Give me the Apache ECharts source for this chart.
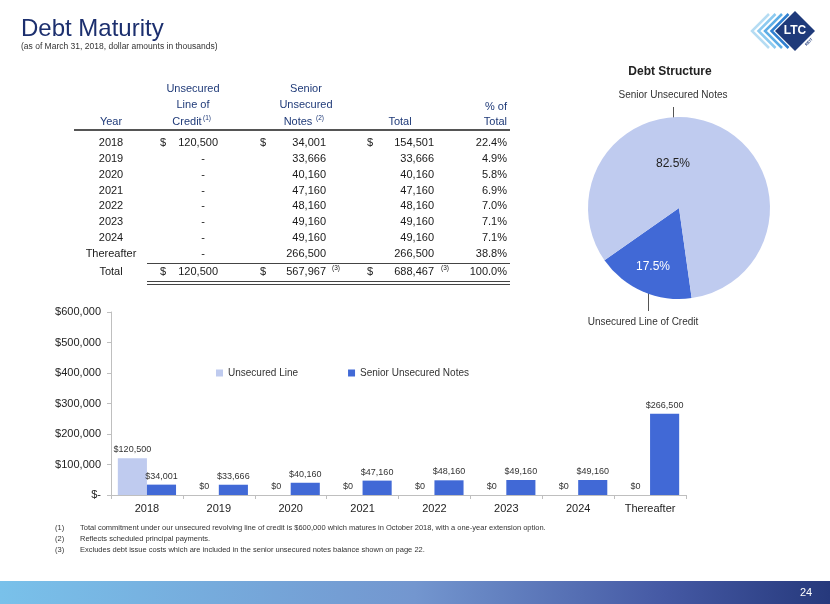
<!DOCTYPE html>
<html>
<head>
<meta charset="utf-8">
<script src="https://cdn.jsdelivr.net/npm/echarts@6/dist/echarts.min.js"></script>
<style>
html,body{margin:0;padding:0;background:#fff;}
#c{width:830px;height:604px;}
</style>
</head>
<body>
<div id="c"></div>
<script>
// ---------- data ----------
const years = ['2018','2019','2020','2021','2022','2023','2024','Thereafter'];
const lineOfCredit = [120500,0,0,0,0,0,0,0];
const seniorNotes = [34001,33666,40160,47160,48160,49160,49160,266500];
const rowTotals = [154501,33666,40160,47160,48160,49160,49160,266500];
const pctOfTotal = [22.4,4.9,5.8,6.9,7.0,7.1,7.1,38.8];
const totalLineOfCredit = 120500;
const totalSeniorNotes = 567967;
const grandTotal = 688467;
const grandPct = 100.0;
const pieNames = ['Unsecured Line of Credit','Senior Unsecured Notes'];
const pieValues = [17.5, 82.5];
const barSeriesNames = ['Unsecured Line','Senior Unsecured Notes'];
const yMax = 600000, yStep = 100000;
const footnotes = [
  'Total commitment under our unsecured revolving line of credit is $600,000 which matures in October 2018, with a one-year extension option.',
  'Reflects scheduled principal payments.',
  'Excludes debt issue costs which are included in the senior unsecured notes balance shown on page 22.'
];

// ---------- styles ----------
const FONT = '"Liberation Sans", Arial, sans-serif';
const NAVY = '#1c2f6e';
const HDR = '#1f3a78';
const TXT = '#1a1a1a';
const LIGHT = '#bfcbef';
const DARK = '#4169d6';

const fmt = v => String(Math.round(v)).replace(/\B(?=(\d{3})+(?!\d))/g, ',');

const g = [];
function txt(x, y, text, o) {
  o = o || {};
  g.push({
    type: 'text', silent: true, x: x, y: y, rotation: o.rot || 0,
    style: {
      text: text,
      fill: o.color || TXT,
      font: (o.weight || 'normal') + ' ' + (o.size || 11) + 'px ' + (o.family || FONT),
      textAlign: o.align || 'left', align: o.align || 'left',
      textVerticalAlign: 'middle', verticalAlign: 'middle'
    }
  });
}
function line(x1, y1, x2, y2, color, w) {
  g.push({type: 'line', silent: true, shape: {x1, y1, x2, y2}, style: {stroke: color, lineWidth: w || 1}});
}

// title
txt(21, 29, 'Debt Maturity', {size: 24, color: NAVY});
txt(21, 47, '(as of March 31, 2018, dollar amounts in thousands)', {size: 8.5, color: '#333'});

// table header
const cYear = 111, cLoc$ = 160, cLocR = 218, cLocDash = 203, cSn$ = 260, cSnR = 326, cT$ = 367, cTR = 434, cPR = 507;
txt(cYear, 122, 'Year', {align: 'center', color: HDR});
txt(193, 89, 'Unsecured', {align: 'center', color: HDR});
txt(193, 105, 'Line of', {align: 'center', color: HDR});
txt(187, 122, 'Credit', {align: 'center', color: HDR});
txt(203, 118, '(1)', {size: 6.5, color: HDR});
txt(306, 89, 'Senior', {align: 'center', color: HDR});
txt(306, 105, 'Unsecured', {align: 'center', color: HDR});
txt(298, 122, 'Notes', {align: 'center', color: HDR});
txt(316, 118, '(2)', {size: 6.5, color: HDR});
txt(400, 122, 'Total', {align: 'center', color: HDR});
txt(cPR, 107, '% of', {align: 'right', color: HDR});
txt(cPR, 122, 'Total', {align: 'right', color: HDR});
line(74, 130, 510, 130, '#555', 2);

// table rows
const rowY0 = 143, rowH = 15.85;
years.forEach((yr, i) => {
  const y = rowY0 + i * rowH;
  txt(cYear, y, yr, {align: 'center'});
  if (lineOfCredit[i] > 0) {
    txt(cLoc$, y, '$');
    txt(cLocR, y, fmt(lineOfCredit[i]), {align: 'right'});
  } else {
    txt(cLocDash, y, '-', {align: 'center'});
  }
  if (i === 0) { txt(cSn$, y, '$'); txt(cT$, y, '$'); }
  txt(cSnR, y, fmt(seniorNotes[i]), {align: 'right'});
  txt(cTR, y, fmt(rowTotals[i]), {align: 'right'});
  txt(cPR, y, pctOfTotal[i].toFixed(1) + '%', {align: 'right'});
});
line(147, 263.5, 510, 263.5, '#444', 1);
const ty = 272;
txt(cYear, ty, 'Total', {align: 'center'});
txt(cLoc$, ty, '$'); txt(cLocR, ty, fmt(totalLineOfCredit), {align: 'right'});
txt(cSn$, ty, '$'); txt(cSnR, ty, fmt(totalSeniorNotes), {align: 'right'});
txt(332, 268, '(3)', {size: 6.5});
txt(cT$, ty, '$'); txt(cTR, ty, fmt(grandTotal), {align: 'right'});
txt(441, 268, '(3)', {size: 6.5});
txt(cPR, ty, grandPct.toFixed(1) + '%', {align: 'right'});
line(147, 281.5, 510, 281.5, '#444', 1);
line(147, 284.5, 510, 284.5, '#444', 1);

// pie titles & leader labels
txt(670, 72, 'Debt Structure', {align: 'center', weight: 'bold', size: 12, color: '#222'});
txt(673, 95, pieNames[1], {align: 'center', size: 10, color: '#333'});
line(673.5, 107, 673.5, 137, '#555', 1);
line(648.5, 285, 648.5, 311, '#555', 1);
txt(643, 322, pieNames[0], {align: 'center', size: 10, color: '#333'});

// footnotes
footnotes.forEach((f, i) => {
  const y = 528 + i * 11;
  txt(55, y, '(' + (i + 1) + ')', {size: 7.5, color: '#333'});
  txt(80, y, f, {size: 7.5, color: '#333'});
});

// bottom band
g.push({
  type: 'rect', silent: true, shape: {x: 0, y: 581, width: 830, height: 23},
  style: {fill: new echarts.graphic.LinearGradient(0, 0, 1, 0, [
    {offset: 0, color: '#79c1ea'},
    {offset: 0.5, color: '#7396cf'},
    {offset: 0.8, color: '#4559a4'},
    {offset: 1, color: '#26397c'}
  ])}
});
txt(800, 593, '24', {size: 11, color: '#fff'});

// logo
const chevColors = ['#b5dcf3', '#8ccaf0', '#5eaee6', '#2f7fd0'];
chevColors.forEach((c, i) => {
  const tip = 752 + i * 6.5;
  g.push({type: 'polyline', silent: true,
    shape: {points: [[tip + 17, 14], [tip, 31], [tip + 17, 48]]},
    style: {stroke: c, lineWidth: 2.5, fill: null}});
});
g.push({type: 'polygon', silent: true, shape: {points: [[795, 11], [815, 31], [795, 51], [775, 31]]}, style: {fill: '#1f3a7a'}});
txt(795, 31, 'LTC', {align: 'center', weight: 'bold', size: 12, color: '#fff'});
txt(809, 42, 'REIT', {align: 'center', weight: 'bold', size: 4, color: '#1f3a7a', rot: Math.PI / 4});

const chart = echarts.init(document.getElementById('c'));
chart.setOption({
  animation: false,
  backgroundColor: '#fff',
  textStyle: {fontFamily: FONT},
  legend: {
    data: barSeriesNames,
    left: 211, top: 363,
    icon: 'rect', itemWidth: 7, itemHeight: 7, itemGap: 50,
    textStyle: {fontSize: 10, color: '#333', fontFamily: FONT}
  },
  grid: {left: 111, right: 144, top: 312, bottom: 109, containLabel: false},
  xAxis: {
    type: 'category', data: years,
    axisLine: {lineStyle: {color: '#bfbfbf'}},
    axisTick: {show: true, length: 4, lineStyle: {color: '#bfbfbf'}},
    axisLabel: {fontSize: 11, color: '#222', margin: 8, fontFamily: FONT}
  },
  yAxis: {
    type: 'value', min: 0, max: yMax, interval: yStep,
    axisLine: {show: true, lineStyle: {color: '#bfbfbf'}},
    axisTick: {show: true, length: 4, lineStyle: {color: '#bfbfbf'}},
    splitLine: {show: false},
    axisLabel: {fontSize: 11, color: '#222', margin: 10, fontFamily: FONT,
      formatter: v => v === 0 ? '$-' : '$' + fmt(v)}
  },
  series: [
    {
      name: barSeriesNames[0], type: 'bar', data: lineOfCredit,
      barGap: '0%', barCategoryGap: '19%',
      itemStyle: {color: LIGHT}, silent: true,
      label: {show: true, position: 'top', fontSize: 9, color: '#333', distance: 4,
        formatter: p => '$' + fmt(p.value)}
    },
    {
      name: barSeriesNames[1], type: 'bar', data: seniorNotes,
      barGap: '0%', barCategoryGap: '19%',
      itemStyle: {color: DARK}, silent: true,
      label: {show: true, position: 'top', fontSize: 9, color: '#333', distance: 4,
        formatter: p => '$' + fmt(p.value)}
    },
    {
      type: 'pie', center: [679, 208], radius: 91,
      startAngle: 278, clockwise: true, silent: true,
      data: pieNames.map((n, i) => ({name: n, value: pieValues[i],
        itemStyle: {color: i === 0 ? DARK : LIGHT},
        label: {color: i === 0 ? '#fff' : '#222'}})),
      label: {show: true, position: 'inside', fontSize: 12, fontFamily: FONT,
        formatter: p => p.value.toFixed(1) + '%'},
      labelLine: {show: false},
      labelLayout: p => p.dataIndex === 0
        ? {x: 653, y: 267, align: 'center', verticalAlign: 'middle'}
        : {x: 673, y: 164, align: 'center', verticalAlign: 'middle'}
    }
  ],
  graphic: {elements: g}
});
</script>
</body>
</html>
